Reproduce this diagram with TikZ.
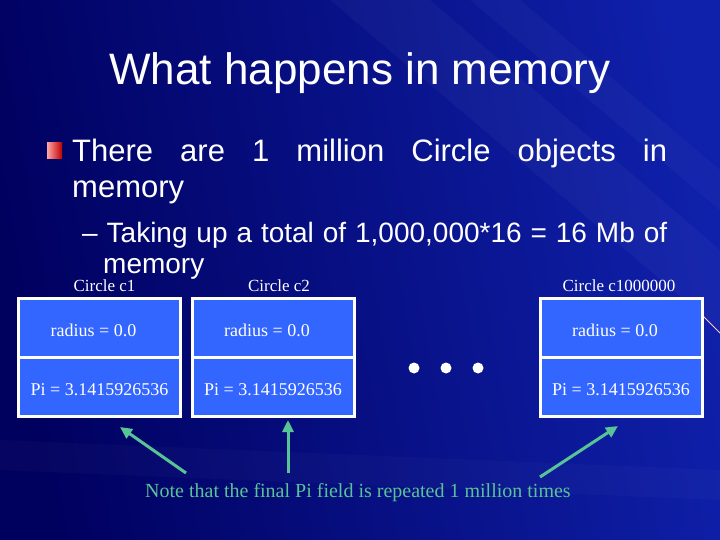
\documentclass[tikz,border=0pt]{standalone}
\usepackage{fontspec}
\setmainfont{Liberation Serif}
\newfontfamily\slidefont{Liberation Sans}
\usetikzlibrary{arrows.meta,positioning}

\definecolor{slidedark}{RGB}{0,0,95}
\definecolor{slidelight}{RGB}{15,32,170}
\definecolor{fieldblue}{RGB}{51,102,255}
\definecolor{notegreen}{RGB}{88,196,150}

\begin{document}
\begin{tikzpicture}[x=1pt, y=-1pt, >={Triangle[length=12pt, width=11pt]},
  field/.style={draw=white, line width=3pt, fill=fieldblue, outer sep=0pt,
    minimum width=162pt, minimum height=59pt, inner sep=0pt, text=white,
    text height=17pt, text depth=0pt, font=\fontsize{18}{18}\selectfont},
  objlabel/.style={text=white, anchor=base, inner sep=0pt,
    font=\fontsize{17}{17}\selectfont},
  slidetext/.style={text=white, anchor=base west, inner sep=0pt},
  notearrow/.style={notegreen, line width=3pt, ->}]
  \useasboundingbox (0,0) rectangle (720,540);
  % background
  \shade[left color=slidedark, right color=slidelight, shading angle=100] (0,0) rectangle (720,540);
  \fill[white, opacity=0.035] (330,0) -- (430,0) -- (720,250) -- (720,330) -- cycle;
  \fill[white, opacity=0.03] (470,0) -- (520,0) -- (720,170) -- (720,210) -- cycle;
  \fill[white, opacity=0.025] (0,440) -- (720,470) -- (720,500) -- (0,470) -- cycle;
  \draw[pink!80!white, line width=0.8pt] (690,303) -- (720,333);

  \node[text=white, anchor=base, font=\slidefont\fontsize{44}{44}\selectfont] (title) at (360,85) {What happens in memory};

  \shade[left color=red!35!white, right color=red!75!black] (47,143) rectangle (62,159);
  \node[slidetext, font=\slidefont\fontsize{31}{31}\selectfont] (line1) at (72,162)
    {\makebox[595pt][s]{There are 1 million Circle objects in}};
  \node[slidetext, font=\slidefont\fontsize{31}{31}\selectfont] (line2) at (72,197) {memory};
  \node[slidetext, font=\slidefont\fontsize{28}{28}\selectfont] (sub1) at (82,242)
    {\makebox[585pt][s]{– Taking up a total of 1,000,000*16 = 16 Mb of}};
  \node[slidetext, font=\slidefont\fontsize{28}{28}\selectfont] (sub2) at (103,273) {memory};

  % the objects
  \node[objlabel] (lab1) at (104.5,291) {Circle c1};
  \node[objlabel] (lab2) at (279,291) {Circle c2};
  \node[objlabel] (lab3) at (619,291) {Circle c1000000};

  \node[field] (rad1) at (99.5,327.5) {\kern-12pt radius = 0.0};
  \node[field, below=0pt of rad1] (pi1) {Pi = 3.1415926536};
  \node[field] (rad2) at (273,327.5) {\kern-12pt radius = 0.0};
  \node[field, below=0pt of rad2] (pi2) {Pi = 3.1415926536};
  \node[field] (rad3) at (621,327.5) {\kern-12pt radius = 0.0};
  \node[field, below=0pt of rad3] (pi3) {Pi = 3.1415926536};

  \foreach \x in {414,446,478}
    \fill[white] (\x,368) circle (5.5);

  % note
  \node[anchor=base west, inner sep=0pt, text=notegreen, font=\fontsize{20}{20}\selectfont] (note) at (145,497)
    {Note that the final Pi field is repeated 1 million times};
  \coordinate (from1) at (186,473);
  \coordinate (from2) at (288,473);
  \coordinate (from3) at (540,477);
  \coordinate (tip1) at (120,427);
  \coordinate (tip2) at (288,420);
  \coordinate (tip3) at (618,426);
  \draw[notearrow] (from1) -- (tip1);
  \draw[notearrow] (from2) -- (tip2);
  \draw[notearrow] (from3) -- (tip3);
\end{tikzpicture}
\end{document}
